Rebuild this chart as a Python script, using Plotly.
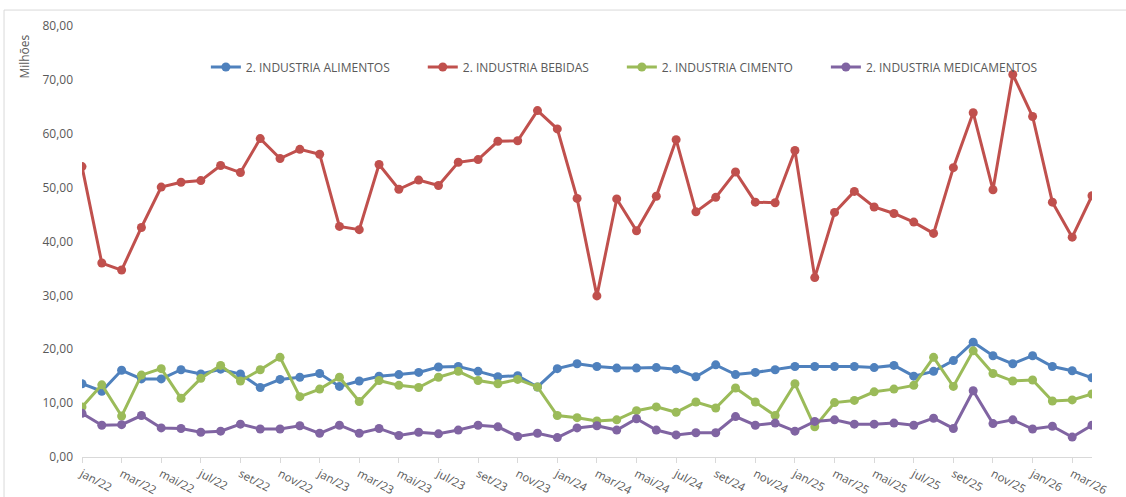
import plotly.graph_objects as go

# meses jan/22 .. abr/26
meses_pt = ["jan", "fev", "mar", "abr", "mai", "jun", "jul", "ago", "set", "out", "nov", "dez"]
meses = [f"{meses_pt[m]}/{a}" for a in (22, 23, 24, 25, 26) for m in range(12)][:52]

alimentos = [13.6, 12.2, 16.1, 14.5, 14.5, 16.2, 15.4, 16.3, 15.4, 12.9,
             14.4, 14.8, 15.5, 13.1, 14.1, 15.0, 15.3, 15.7, 16.7, 16.8,
             15.9, 14.9, 15.1, 13.0, 16.4, 17.3, 16.8, 16.5, 16.5, 16.6,
             16.3, 14.9, 17.1, 15.3, 15.7, 16.2, 16.8, 16.8, 16.8, 16.8,
             16.6, 17.0, 15.0, 15.9, 17.9, 21.3, 18.8, 17.3, 18.8, 16.8,
             16.0, 14.7]
bebidas = [53.9, 36.0, 34.7, 42.6, 50.1, 51.0, 51.3, 54.1, 52.8, 59.1,
           55.4, 57.1, 56.2, 42.8, 42.2, 54.3, 49.7, 51.4, 50.4, 54.7,
           55.2, 58.6, 58.7, 64.3, 60.9, 48.0, 29.9, 47.9, 42.0, 48.4,
           58.9, 45.5, 48.2, 52.9, 47.3, 47.2, 56.9, 33.3, 45.4, 49.3,
           46.4, 45.2, 43.6, 41.5, 53.7, 63.9, 49.6, 71.0, 63.2, 47.3,
           40.8, 48.5]
cimento = [9.3, 13.4, 7.6, 15.2, 16.4, 10.9, 14.6, 17.0, 14.1, 16.2,
           18.5, 11.2, 12.6, 14.8, 10.3, 14.2, 13.3, 12.9, 14.8, 15.9,
           14.2, 13.6, 14.4, 13.0, 7.7, 7.3, 6.7, 6.9, 8.6, 9.3,
           8.3, 10.2, 9.1, 12.8, 10.2, 7.7, 13.6, 5.6, 10.1, 10.5,
           12.1, 12.6, 13.3, 18.5, 13.1, 19.7, 15.5, 14.1, 14.3, 10.4,
           10.6, 11.7]
medicamentos = [8.1, 5.9, 6.0, 7.7, 5.4, 5.3, 4.6, 4.8, 6.1, 5.2,
                5.2, 5.8, 4.4, 5.9, 4.4, 5.3, 4.0, 4.6, 4.3, 5.0,
                5.9, 5.6, 3.8, 4.4, 3.6, 5.4, 5.8, 5.0, 7.1, 5.0,
                4.1, 4.5, 4.5, 7.5, 5.9, 6.3, 4.8, 6.6, 6.9, 6.1,
                6.1, 6.3, 5.9, 7.2, 5.3, 12.3, 6.2, 6.9, 5.2, 5.7,
                3.7, 5.9]

series = [
    ("2. INDUSTRIA ALIMENTOS", alimentos, "#4F81BD"),
    ("2. INDUSTRIA BEBIDAS", bebidas, "#C0504D"),
    ("2. INDUSTRIA CIMENTO", cimento, "#9BBB59"),
    ("2. INDUSTRIA MEDICAMENTOS", medicamentos, "#8064A2"),
]

fig = go.Figure()
for k, (nome, vals, cor) in enumerate(series):
    pad = "\u00a0" * 9 if k < len(series) - 1 else ""  # espaço entre itens da legenda
    fig.add_trace(go.Scatter(
        x=meses, y=vals, name=nome + pad, mode="lines+markers",
        line=dict(color=cor, width=3),
        marker=dict(color=cor, size=9),
    ))

GRAY = "#595959"
fig.update_layout(
    width=1126, height=497,
    plot_bgcolor="#FFFFFF", paper_bgcolor="#FFFFFF",
    font=dict(family="Open Sans", size=12, color=GRAY),
    separators=",.",
    margin=dict(t=26, b=40, l=82, r=34),
    showlegend=True,
    legend=dict(orientation="h", x=0.537, xanchor="center", y=0.905, yanchor="middle",
                font=dict(size=12, color=GRAY), bgcolor="rgba(0,0,0,0)"),
    xaxis=dict(
        type="category", range=[0, 51], automargin=False,
        tickvals=meses[::2], ticktext=meses[::2], tickangle=28,
        showgrid=False, showline=True, linecolor="#D9D9D9", linewidth=1,
        ticks="outside", ticklen=5, tickcolor="#D9D9D9",
        ticklabelstandoff=0, tickfont=dict(size=11.5, color=GRAY),
    ),
    yaxis=dict(
        range=[0, 80], dtick=10, tickformat=".2f", automargin=False,
        showgrid=False, zeroline=False, showline=False,
        ticklabelstandoff=8, tickfont=dict(size=12, color=GRAY),
    ),
    annotations=[dict(
        text="Milhões", textangle=-90, xref="paper", yref="paper",
        x=-0.057, y=0.93, xanchor="center", yanchor="middle",
        showarrow=False, font=dict(size=12, color=GRAY),
    )],
    shapes=[dict(
        type="rect", xref="paper", yref="paper",
        x0=-0.0772, x1=1.2, y0=-0.3, y1=1.037,
        line=dict(color="#D9D9D9", width=1), layer="below",
    )],
)

fig.write_html("out.html", config={"displayModeBar": False},
               post_script="document.body.style.margin='0';")
